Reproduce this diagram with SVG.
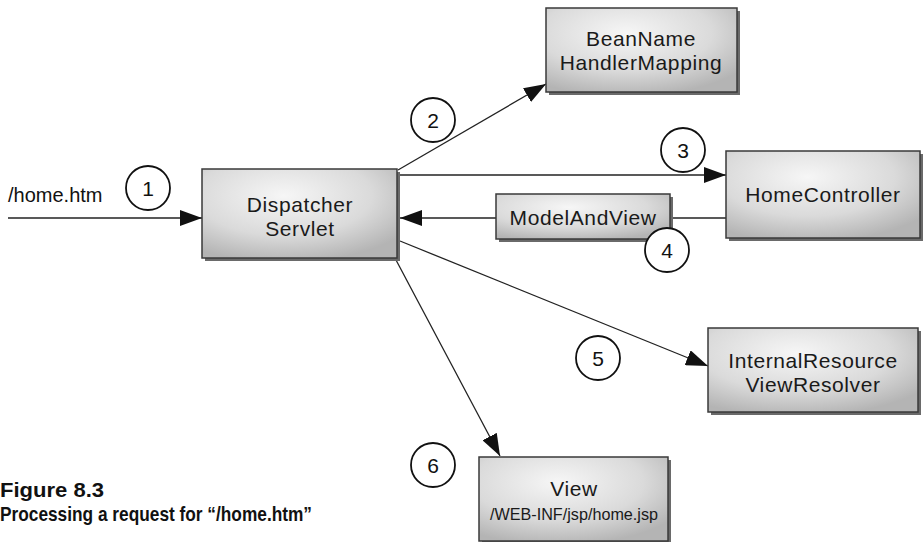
<svg xmlns="http://www.w3.org/2000/svg" width="924" height="542" viewBox="0 0 924 542">
<style>
.box{fill:url(#g);stroke:#3a3a3a;stroke-width:1.5}
.sh{fill:#6a6a6a}
.t{font-family:"Liberation Sans",Arial,sans-serif;font-size:21px;fill:#1a1a1a;text-anchor:middle;letter-spacing:0.6px}
.c{fill:#fff;stroke:#111;stroke-width:1.8}
.n{font-family:"Liberation Sans",Arial,sans-serif;font-size:21px;fill:#111;text-anchor:middle}
.ln{stroke:#222;stroke-width:1.3;fill:none}
.cap{font-family:"Liberation Sans Narrow","Liberation Sans",Arial,sans-serif;font-weight:bold;font-size:21px;fill:#111}
</style>
<defs>
<radialGradient id="g" cx="0.42" cy="0.3" r="0.75">
<stop offset="0" stop-color="#f6f6f6"/>
<stop offset="0.6" stop-color="#dadada"/>
<stop offset="1" stop-color="#b4b4b4"/>
</radialGradient>
<marker id="ah" markerUnits="userSpaceOnUse" markerWidth="22" markerHeight="16" viewBox="0 0 22 16" refX="22" refY="8" orient="auto">
<path d="M0,0 L22,8 L0,16 z" fill="#111"/>
</marker>
</defs>

<g id="connectors">
<line class="ln" x1="8" y1="218" x2="202" y2="218" marker-end="url(#ah)"/>
<line class="ln" x1="398" y1="170" x2="546" y2="84" marker-end="url(#ah)"/>
<line class="ln" x1="398" y1="175" x2="726" y2="175" marker-end="url(#ah)"/>
<line class="ln" x1="726" y1="218" x2="670" y2="218"/>
<line class="ln" x1="496" y1="218" x2="400" y2="218" marker-end="url(#ah)"/>
<line class="ln" x1="400" y1="241" x2="708" y2="366" marker-end="url(#ah)"/>
<line class="ln" x1="396" y1="260" x2="500" y2="456" marker-end="url(#ah)"/>
</g>

<g id="input">
<text x="8" y="202" font-family="'Liberation Sans',Arial,sans-serif" font-size="20" fill="#111">/home.htm</text>
<circle class="c" cx="148" cy="188" r="22"/>
<text class="n" x="148" y="196">1</text>
</g>

<g id="dispatcher">
<rect class="sh" x="205" y="172" width="195" height="89"/>
<rect class="box" x="202" y="169" width="195" height="89"/>
<text class="t" x="300" y="212">Dispatcher</text>
<text class="t" x="300" y="236">Servlet</text>
</g>

<g id="beanname">
<rect class="sh" x="549" y="11" width="191" height="84"/>
<rect class="box" x="546" y="8" width="191" height="84"/>
<text class="t" x="641" y="46">BeanName</text>
<text class="t" x="641" y="70">HandlerMapping</text>
</g>

<g id="homecontroller">
<rect class="sh" x="729" y="154" width="194" height="87"/>
<rect class="box" x="726" y="151" width="194" height="87"/>
<text class="t" x="823" y="202">HomeController</text>
</g>

<g id="modelandview">
<rect class="sh" x="499" y="197" width="174" height="45"/>
<rect class="box" x="496" y="194" width="174" height="45"/>
<text class="t" x="583" y="225">ModelAndView</text>
</g>

<g id="resolver">
<rect class="sh" x="711" y="331" width="210" height="84"/>
<rect class="box" x="708" y="328" width="210" height="84"/>
<text class="t" x="813" y="368">InternalResource</text>
<text class="t" x="813" y="392">ViewResolver</text>
</g>

<g id="view">
<rect class="sh" x="482" y="460" width="189" height="84"/>
<rect class="box" x="479" y="457" width="189" height="84"/>
<text class="t" x="574" y="496">View</text>
<text class="t" x="574" y="520" style="font-size:17px;letter-spacing:0" textLength="168" lengthAdjust="spacingAndGlyphs">/WEB-INF/jsp/home.jsp</text>
</g>

<g id="steps">
<circle class="c" cx="433" cy="120" r="22"/>
<text class="n" x="433" y="128">2</text>
<circle class="c" cx="683" cy="150" r="22"/>
<text class="n" x="683" y="158">3</text>
<circle class="c" cx="667" cy="250" r="22"/>
<text class="n" x="667" y="258">4</text>
<circle class="c" cx="598" cy="358" r="22"/>
<text class="n" x="598" y="366">5</text>
<circle class="c" cx="433" cy="465" r="22"/>
<text class="n" x="433" y="473">6</text>
</g>

<g id="caption">
<text class="cap" x="0" y="497" textLength="104" lengthAdjust="spacingAndGlyphs">Figure 8.3</text>
<text class="cap" x="0" y="521" textLength="312" lengthAdjust="spacingAndGlyphs">Processing a request for “/home.htm”</text>
</g>
</svg>
